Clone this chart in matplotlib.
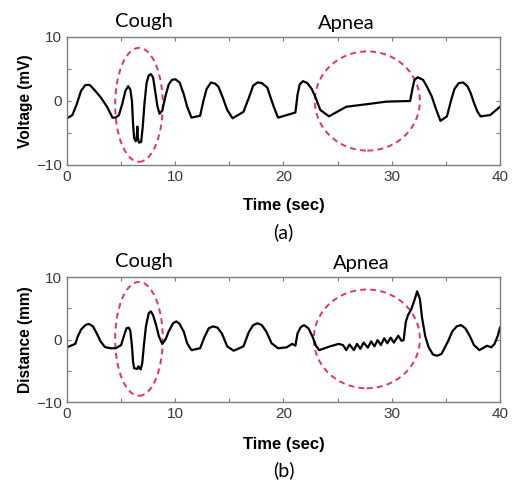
import matplotlib
matplotlib.use("Agg")
import matplotlib.pyplot as plt
from matplotlib.patches import Ellipse

# (a) voltage signal
t_a = [0, 0.5, 0.9, 1.3, 1.7, 2.1, 2.5, 3.1, 3.7, 4.2, 4.5, 4.8, 5.1, 5.4, 5.65, 5.85, 6.0, 6.1, 6.2, 6.35,
       6.45, 6.5, 6.55, 6.65, 6.85, 7.0, 7.15, 7.35, 7.55, 7.75, 7.95, 8.15, 8.35, 8.55, 8.8, 9.1, 9.4,
       9.7, 10.0, 10.4, 10.8, 11.1, 11.5, 12.3, 12.6, 12.9, 13.3, 13.7, 14.0, 14.4, 14.8, 15.3, 16.3,
       16.8, 17.2, 17.6, 18.0, 18.5, 19.1, 19.5, 20.3, 21.1, 21.3, 21.5, 21.8, 22.2, 22.6, 22.9, 23.4,
       24.2, 25.8, 27.7, 29.5, 31.7, 31.9, 32.1, 32.4, 32.9, 33.3, 33.7, 34.1, 34.5, 35.1, 35.5, 35.8,
       36.2, 36.6, 37.0, 37.3, 37.6, 37.9, 38.2, 39.1, 40.0]
v_a = [-2.7, -2.2, -0.5, 1.6, 2.5, 2.5, 1.8, 0.6, -0.9, -2.6, -2.6, -2.2, -0.5, 1.6, 2.3, 1.8, 0.0, -3.5, -5.8, -6.3,
       -5.5, -4.0, -5.8, -6.5, -6.4, -4.0, -0.5, 2.8, 4.0, 4.2, 3.7, 1.5, -0.8, -2.0, -1.5, 0.8, 2.6,
       3.3, 3.4, 2.9, 1.0, -0.9, -2.6, -2.3, 0.0, 1.9, 2.9, 2.7, 2.2, 0.5, -1.4, -2.7, -1.7,
       0.5, 2.4, 2.9, 2.8, 2.1, -0.9, -2.6, -2.2, -1.8, 1.0, 2.6, 3.1, 2.8, 1.9, 0.8, -1.4,
       -2.4, -0.9, -0.5, -0.1, 0.0, 1.8, 3.3, 3.7, 3.3, 2.1, 0.7, -1.3, -3.1, -2.4, 0.2, 1.9,
       2.8, 2.9, 2.3, 1.2, -0.3, -1.6, -2.4, -2.2, -0.9]

# (b) distance signal
t_b = [0, 0.77, 1.0, 1.3, 1.7, 2.0, 2.4, 2.8, 3.1, 3.5, 4.0, 4.5, 5.0, 5.3, 5.5, 5.7, 5.85, 6.0, 6.1, 6.2,
       6.5, 6.6, 6.8, 6.95, 7.1, 7.3, 7.55, 7.75, 7.95, 8.2, 8.5, 8.8, 9.1, 9.4, 9.8, 10.1, 10.4, 10.8,
       11.1, 11.5, 12.3, 12.7, 13.1, 13.5, 13.9, 14.3, 14.8, 15.4, 16.3, 16.8, 17.2, 17.6, 18.0, 18.4,
       18.9, 19.5, 20.3, 20.8, 21.1, 21.3, 21.6, 21.9, 22.3, 22.7, 23.0, 23.3, 24.3, 25.1, 25.5,
       25.8, 26.1, 26.5, 26.8, 27.1, 27.4, 27.8, 28.1, 28.4, 28.7, 29.0, 29.3, 29.6, 29.9, 30.2, 30.6,
       30.9, 31.1, 31.3, 31.5, 31.8, 32.1, 32.35, 32.6, 32.8, 33.1, 33.4, 33.8, 34.2, 34.6, 35.2, 35.6,
       36.0, 36.4, 36.8, 37.2, 37.6, 38.1, 38.5, 38.8, 39.2, 39.5, 39.8, 40.0]
d_b = [-1.25, -0.7, 0.5, 1.6, 2.3, 2.5, 2.1, 0.8, -0.3, -1.2, -1.4, -1.4, -0.9, 0.8, 1.8, 1.9, 1.4, -1.0, -3.5, -4.6,
       -4.7, -4.3, -4.8, -3.8, -1.0, 2.2, 4.2, 4.5, 3.9, 2.5, 0.45, -0.7, 0.0, 1.3, 2.6, 2.9, 2.5, 1.2,
       -0.6, -1.7, -1.4, 0.4, 1.8, 2.1, 1.9, 1.0, -1.1, -1.8, -1.1, 1.2, 2.3, 2.6, 2.3, 1.3,
       -0.6, -1.4, -1.25, -0.7, -1.0, 1.0, 2.0, 2.3, 1.8, 0.4, -1.0, -1.7, -1.1, -0.7, -0.9,
       -1.7, -0.8, -1.7, -0.7, -1.5, -0.5, -1.3, -0.3, -1.1, -0.1, -0.9, 0.2, -0.6, 0.3, -0.5, 0.6,
       -0.2, -0.1, 2.8, 3.9, 4.8, 6.3, 7.7, 6.5, 3.5, 0.5, -1.2, -2.4, -2.6, -2.3, -0.3, 1.3,
       2.1, 2.3, 1.8, 0.6, -0.9, -1.7, -1.3, -1.0, -1.25, -0.7, 0.6, 1.9]

x_ticks = [0, 10, 20, 30, 40]
y_ticks = [-10, 0, 10]
ylabels = ["Voltage (mV)", "Distance (mm)"]
panel_labels = ["(a)", "(b)"]
annotations = ["Cough", "Apnea"]

# ellipse (center x, center y, width, height) per panel
cough_ell = [(6.65, -0.6, 4.4, 17.8), (6.65, 0.1, 4.4, 18.2)]
apnea_ell = [(27.75, 0.0, 9.7, 15.5), (27.7, 0.1, 9.8, 15.8)]

fig = plt.figure(figsize=(5.13, 4.83), dpi=100)
ax_a = fig.add_axes([0.1306, 0.6584, 0.844, 0.265])
ax_b = fig.add_axes([0.1306, 0.1677, 0.844, 0.2588])

gray = "#7f7f7f"
tick_font = "Liberation Sans"
ann_font = ["Lato", "DejaVu Sans"]
ell_color = "#e8316a"

xlabel_y = [-0.258, -0.28]
panel_y = [-0.523, -0.544]

for i, (ax, t, y) in enumerate([(ax_a, t_a, v_a), (ax_b, t_b, d_b)]):
    ax.plot(t, y, color="black", lw=1.6, solid_joinstyle="round")
    ax.set_xlim(0, 40)
    ax.set_ylim(-10, 10)
    ax.set_xticks(x_ticks)
    ax.set_yticks(y_ticks)
    ax.set_xticks([5, 15, 25, 35], minor=True)
    ax.set_yticks([-5, 5], minor=True)
    ax.tick_params(which="both", direction="in", top=True, right=True, colors=gray,
                   labelcolor="#3a3a3a", labelsize=11, length=3, width=0.8)
    for lab in ax.get_xticklabels() + ax.get_yticklabels():
        lab.set_fontfamily(tick_font)
    for sp in ax.spines.values():
        sp.set_color(gray)
        sp.set_linewidth(1.0)
    ax.set_xlabel("Time (sec)", fontsize=12, fontweight="bold", family=tick_font)
    ax.set_ylabel(ylabels[i], fontsize=11.2, fontweight="bold", family=tick_font)
    ax.xaxis.set_label_coords(0.5, xlabel_y[i])
    ax.yaxis.set_label_coords(-0.0785, 0.5)
    for (cx, cy, w, h) in (cough_ell[i], apnea_ell[i]):
        ax.add_patch(Ellipse((cx, cy), w, h, fill=False, edgecolor=ell_color,
                             lw=1.4, ls=(0, (3, 2.2))))
    ax.text(0.5, panel_y[i], panel_labels[i], transform=ax.transAxes, ha="center", va="center",
            fontsize=14, family=ann_font)

fig.text(144 / 513, 1 - 21 / 483, annotations[0], ha="center", va="center", fontsize=14.5, family=ann_font)
fig.text(346 / 513, 1 - 23 / 483, annotations[1], ha="center", va="center", fontsize=14.5, family=ann_font)
fig.text(144 / 513, 1 - 261 / 483, annotations[0], ha="center", va="center", fontsize=14.5, family=ann_font)
fig.text(361 / 513, 1 - 264 / 483, annotations[1], ha="center", va="center", fontsize=14.5, family=ann_font)

fig.savefig("out.png", dpi=100)
